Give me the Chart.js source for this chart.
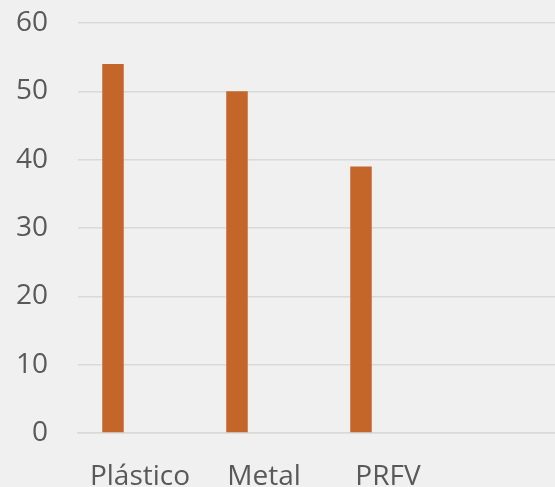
<!DOCTYPE html>
<html>
<head>
<meta charset="utf-8">
<script src="https://cdn.jsdelivr.net/npm/chart.js@4/dist/chart.umd.min.js"></script>
<style>
html,body{margin:0;padding:0;background:#f0f0f0;overflow:hidden;width:555px;height:487px;}
#c{position:absolute;left:0;top:0;}
</style>
</head>
<body>
<canvas id="c" width="575" height="500"></canvas>
<script>
const categories = ['Plástico', 'Metal', 'PRFV', ''];
const seriesValues = [54, 50, 39, null];
const emptySeries = [null, null, null, null];
const yTicks = [0, 10, 20, 30, 40, 50, 60];

const bg = {
  id: 'bg',
  beforeDraw(chart) {
    const ctx = chart.ctx;
    ctx.save();
    ctx.fillStyle = '#f0f0f0';
    ctx.fillRect(0, 0, chart.width, chart.height);
    ctx.restore();
  }
};

new Chart(document.getElementById('c'), {
  type: 'bar',
  data: {
    labels: categories,
    datasets: [
      { data: seriesValues, backgroundColor: '#c4662a', categoryPercentage: 0.871, barPercentage: 0.398 },
      { data: emptySeries, backgroundColor: '#c4662a', categoryPercentage: 0.871, barPercentage: 0.398 }
    ]
  },
  options: {
    responsive: false,
    animation: false,
    devicePixelRatio: 1,
    layout: { padding: { top: 23, left: 0, right: 1, bottom: 0 } },
    plugins: { legend: { display: false }, tooltip: { enabled: false } },
    scales: {
      x: {
        grid: { display: false, drawTicks: false },
        border: { display: true, color: '#d9d9d9', width: 1.5 },
        ticks: { color: '#595959', font: { family: 'Open Sans', size: 28 }, padding: 27, maxRotation: 0, autoSkip: false },
        afterFit(scale) { scale.paddingLeft = 0; scale.paddingRight = 0; scale.height = 67; }
      },
      y: {
        min: 0, max: 60,
        afterBuildTicks(scale) { scale.ticks = yTicks.map(v => ({ value: v })); },
        grid: { color: '#d9d9d9', lineWidth: 1.5, drawTicks: false },
        border: { display: false },
        ticks: { color: '#595959', font: { family: 'Open Sans', size: 28 }, padding: 30 },
        afterFit(scale) { scale.width = 78; scale.paddingTop = 0; scale.paddingBottom = 0; }
      }
    }
  },
  plugins: [bg]
});
</script>
</body>
</html>
